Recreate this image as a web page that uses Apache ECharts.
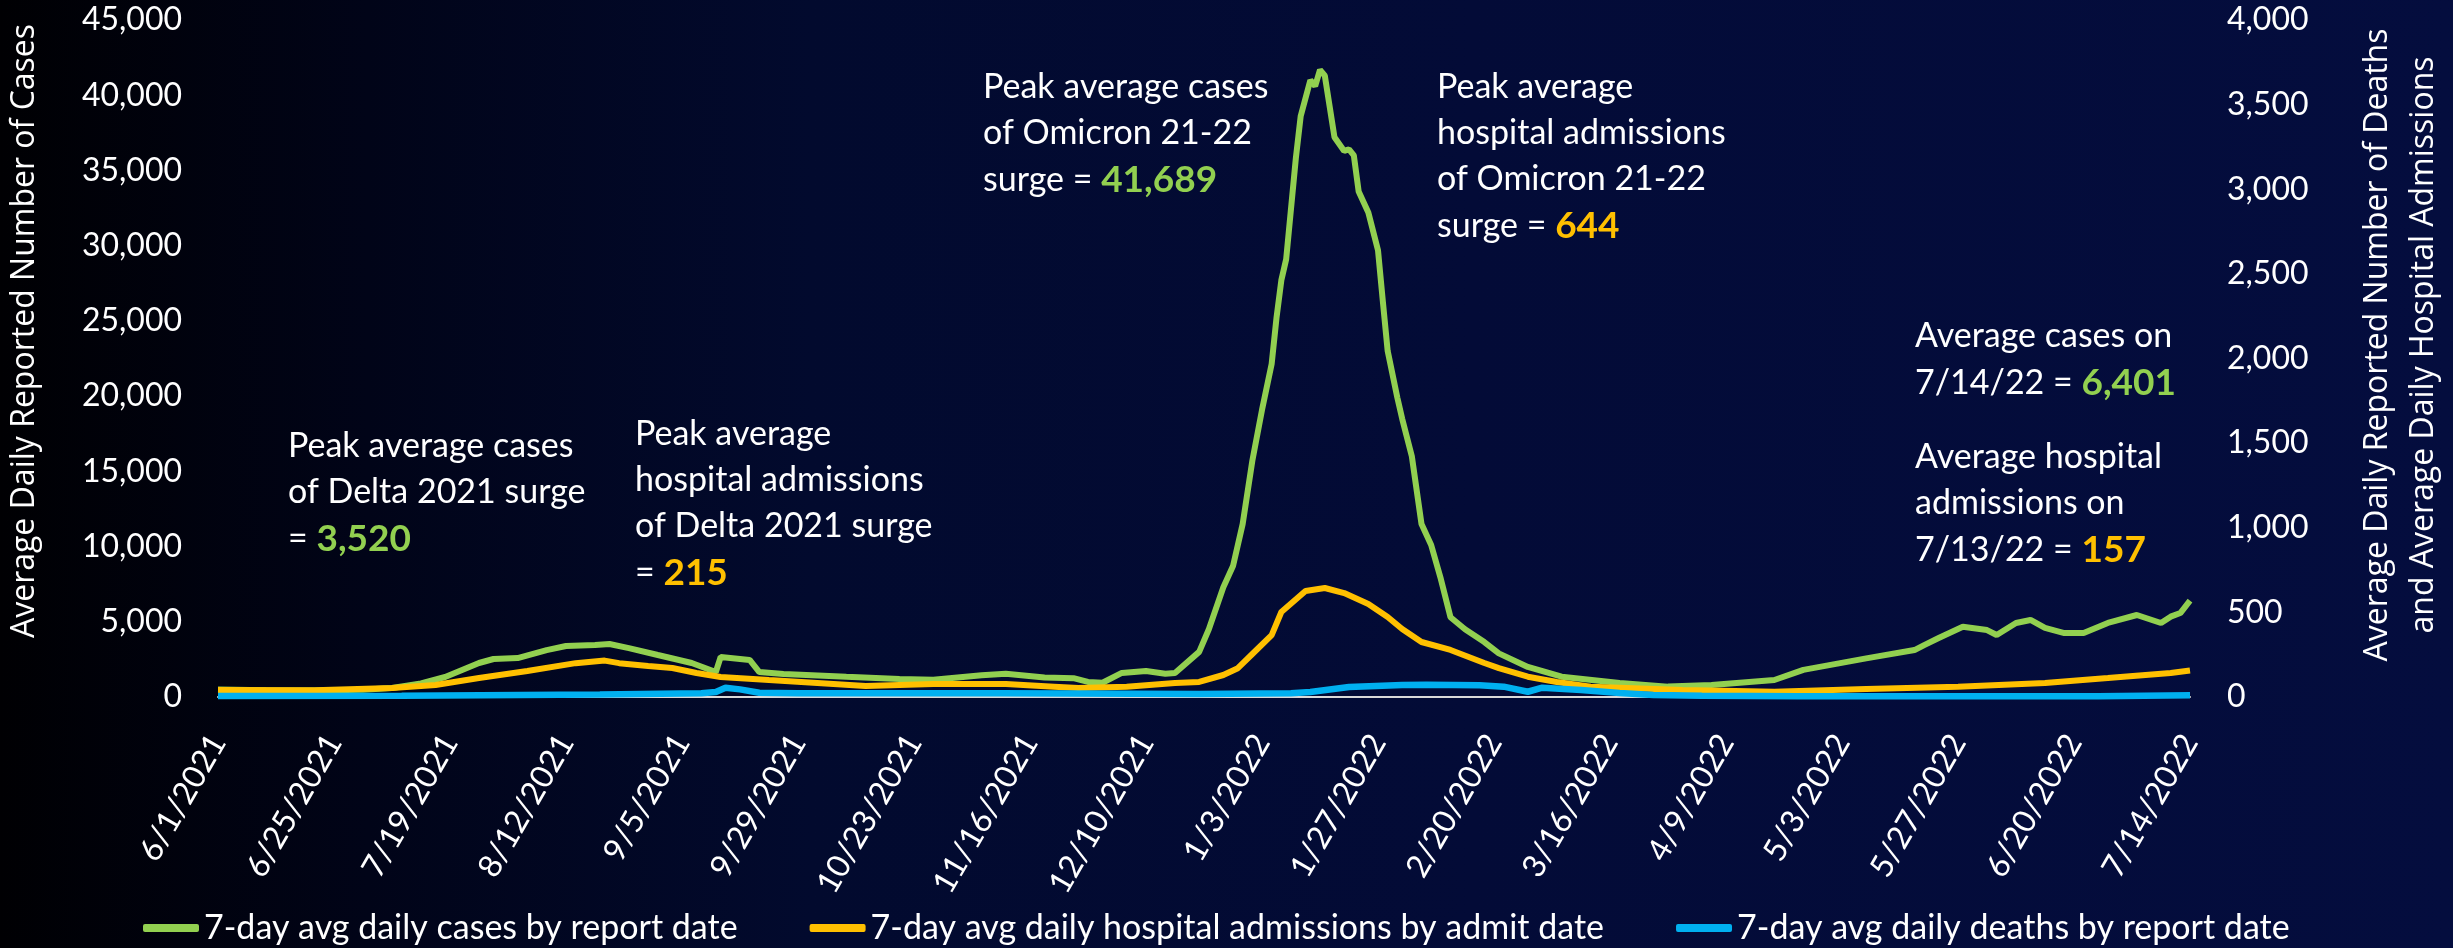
<!DOCTYPE html>
<html>
<head>
<meta charset="utf-8">
<script src="https://cdn.jsdelivr.net/npm/echarts@6/dist/echarts.min.js"></script>
<style>
  html, body { margin: 0; padding: 0; background: #000; }
  #chart { width: 2453px; height: 948px; }
</style>
</head>
<body>
<div id="chart"></div>
<script>
// day index = days since 6/1/2021
const tickLabels = ['6/1/2021', '6/25/2021', '7/19/2021', '8/12/2021', '9/5/2021', '9/29/2021',
  '10/23/2021', '11/16/2021', '12/10/2021', '1/3/2022', '1/27/2022', '2/20/2022', '3/16/2022',
  '4/9/2022', '5/3/2022', '5/27/2022', '6/20/2022', '7/14/2022'];

// 7-day avg daily cases (left axis)
const caseDays = [0, 10, 20, 30, 36, 42, 47, 54, 57, 62, 68, 72, 78, 81, 85, 91, 98, 103, 104, 110,
  112, 117, 130, 141, 148, 158, 163, 171, 177, 180, 183, 187, 192, 196, 198, 203, 205, 208, 210, 212,
  214, 216, 218, 219, 220, 221, 223, 224, 226, 227, 228, 229, 231, 233, 234, 235, 236, 238, 240, 241,
  242, 244, 245, 247, 249, 251, 253, 255, 258, 262, 265, 271, 278, 290, 300, 309, 322, 328, 341, 351,
  353, 356, 361, 366, 368, 372, 375, 378, 382, 386, 391, 397, 402, 404, 406, 408];
const caseValues = [500, 450, 430, 480, 600, 900, 1330, 2260, 2525, 2590, 3120, 3390, 3456, 3520, 3250, 2790, 2260, 1660, 2660, 2460,
  1660, 1530, 1350, 1200, 1150, 1450, 1550, 1300, 1250, 1000, 950, 1600, 1730, 1550, 1600, 3000, 4500, 7300, 8700, 11500,
  15700, 19080, 22140, 25200, 27700, 29100, 35800, 38600, 41000, 40600, 41689, 41300, 37200, 36300, 36400, 36000, 33600, 32200, 29700, 26300,
  23000, 19900, 18500, 16000, 11500, 10100, 7850, 5300, 4500, 3650, 2900, 2000, 1350, 930, 690, 800, 1130, 1800, 2570, 3120,
  3450, 3920, 4670, 4450, 4120, 4920, 5120, 4590, 4250, 4250, 4920, 5450, 4920, 5340, 5580, 6401];

// 7-day avg daily hospital admissions (right axis)
const hospDays = [0, 20, 36, 45, 54, 64, 74, 80, 83, 89, 94, 99, 104, 114, 124, 134, 148, 163, 173, 178,
  188, 198, 203, 208, 211, 214, 218, 220, 225, 229, 233, 238, 242, 245, 249, 255, 262, 265, 271, 277,
  284, 303, 322, 341, 360, 378, 391, 404, 408];
const hospValues = [42, 40, 53, 71, 112, 154, 200, 215, 200, 183, 171, 142, 118, 100, 83, 65, 77, 77, 61, 53,
  61, 83, 89, 130, 170, 254, 366, 502, 626, 644, 614, 550, 473, 402, 325, 278, 201, 171, 120, 89,
  61, 41, 31, 47, 61, 83, 112, 142, 157];

// 7-day avg daily deaths (right axis)
const deathDays = [0, 38, 79, 100, 103, 105, 108, 112, 120, 162, 203, 222, 226, 234, 245, 250, 261, 266, 271, 274,
  282, 290, 297, 307, 327, 369, 389, 408];
const deathValues = [6, 8, 15, 22, 30, 55, 45, 25, 22, 22, 18, 22, 30, 59, 71, 73, 70, 61, 31, 55,
  41, 24, 12, 8, 5, 4, 5, 10];

const zip = (d, v) => d.map((x, i) => [x, v[i]]);

const calibri = 'Lato';
const white = '#ffffff';

let chart = echarts.init(document.getElementById('chart'));

var option = {
  animation: false,
  backgroundColor: new echarts.graphic.LinearGradient(0, 0, 1, 0, [
    { offset: 0, color: '#000003' },
    { offset: 0.15, color: '#010418' },
    { offset: 0.33, color: '#020a2e' },
    { offset: 0.6, color: '#030b37' },
    { offset: 1, color: '#040d3e' }
  ]),
  grid: { left: 218, right: 263, top: 20, bottom: 251 },
  legend: {
    left: 138,
    top: 906,
    icon: 'roundRect',
    itemWidth: 56,
    itemHeight: 8,
    itemGap: 72,
    textStyle: { color: white, fontFamily: calibri, fontSize: 34 },
    data: ['7-day avg daily cases by report date',
      '7-day avg daily hospital admissions by admit date',
      '7-day avg daily deaths by report date']
  },
  xAxis: {
    type: 'value',
    min: 0,
    max: 408,
    interval: 24,
    axisLine: { show: true, lineStyle: { color: '#d9d9d9', width: 2 } },
    axisTick: { show: false },
    splitLine: { show: false },
    axisLabel: {
      rotate: 60,
      margin: 40,
      color: white,
      fontFamily: calibri,
      fontSize: 32,
      formatter: v => tickLabels[Math.round(v / 24)]
    }
  },
  yAxis: [
    {
      type: 'value', position: 'left', min: 0, max: 45000, interval: 5000,
      axisLine: { show: false }, axisTick: { show: false }, splitLine: { show: false },
      axisLabel: { margin: 36, color: white, fontFamily: calibri, fontSize: 32 }
    },
    {
      type: 'value', position: 'right', min: 0, max: 4000, interval: 500,
      axisLine: { show: false }, axisTick: { show: false }, splitLine: { show: false },
      axisLabel: { margin: 37, color: white, fontFamily: calibri, fontSize: 32 }
    }
  ],
  series: [
    {
      name: '7-day avg daily cases by report date',
      type: 'line', yAxisIndex: 0, showSymbol: false,
      lineStyle: { color: '#92D050', width: 6 },
      itemStyle: { color: '#92D050' },
      data: zip(caseDays, caseValues)
    },
    {
      name: '7-day avg daily hospital admissions by admit date',
      type: 'line', yAxisIndex: 1, showSymbol: false,
      lineStyle: { color: '#FFC000', width: 6 },
      itemStyle: { color: '#FFC000' },
      data: zip(hospDays, hospValues)
    },
    {
      name: '7-day avg daily deaths by report date',
      type: 'line', yAxisIndex: 1, showSymbol: false,
      lineStyle: { color: '#00B0F0', width: 6.5 },
      itemStyle: { color: '#00B0F0' },
      data: zip(deathDays, deathValues)
    }
  ],
  graphic: []
};

// axis titles
const titleFont = { fontFamily: 'Open Sans', fontSize: 32, fill: white, align: 'center', verticalAlign: 'middle', lineHeight: 46 };
option.graphic.push({
  type: 'text', x: 25, y: 331, rotation: Math.PI / 2,
  style: Object.assign({ text: 'Average Daily Reported Number of Cases' }, titleFont)
});
option.graphic.push({
  type: 'text', x: 2401, y: 345, rotation: Math.PI / 2,
  style: Object.assign({ text: 'Average Daily Reported Number of Deaths\nand Average Daily Hospital Admissions' }, titleFont)
});

// annotations
const rich = {
  g: { fill: '#92D050', fontWeight: 'bold', fontSize: 37, fontFamily: calibri, lineHeight: 48 },
  o: { fill: '#FFC000', fontWeight: 'bold', fontSize: 37, fontFamily: calibri, lineHeight: 48 }
};
const notes = [
  [288, 423, 'Peak average cases\nof Delta 2021 surge\n= {g|3,520}'],
  [635, 411, 'Peak average\nhospital admissions\nof Delta 2021 surge\n= {o|215}'],
  [983, 64, 'Peak average cases\nof Omicron 21-22\nsurge = {g|41,689}'],
  [1437, 64, 'Peak average\nhospital admissions\nof Omicron 21-22\nsurge = {o|644}'],
  [1915, 313, 'Average cases on\n7/14/22 = {g|6,401}'],
  [1915, 434, 'Average hospital\nadmissions on\n7/13/22 = {o|157}']
];
notes.forEach(n => {
  option.graphic.push({
    type: 'text', x: n[0], y: n[1],
    style: {
      text: n[2], fill: white, fontFamily: calibri, fontSize: 34, lineHeight: 46,
      align: 'left', verticalAlign: 'top', rich: rich
    }
  });
});

chart.setOption(option);
</script>
</body>
</html>
